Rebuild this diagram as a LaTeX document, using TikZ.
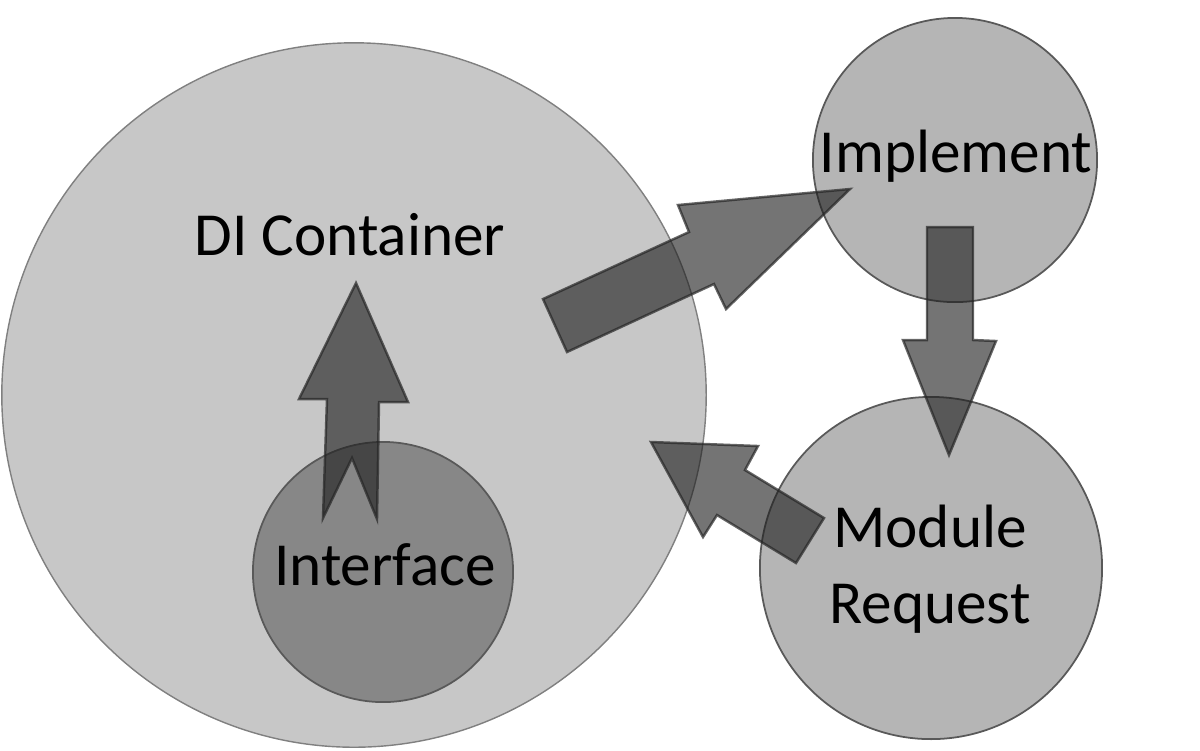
\documentclass[tikz,border=0pt]{standalone}
\usepackage{fontspec}
\setmainfont{Carlito}
\usepackage{tikz}

\tikzset{
  bubble/.style={circle, draw=black!65, line width=0.5pt, inner sep=0pt},
  blockarrow/.style={fill=black!88, fill opacity=0.62, draw=black!85, draw opacity=0.7, line width=0.7pt, line join=miter},
  caption/.style={font=\fontsize{17.4}{21.6}\selectfont, align=center, anchor=base, inner sep=0pt}
}

\begin{document}
\begin{tikzpicture}[x=0.01cm, y=-0.01cm]
\useasboundingbox (0,0) rectangle (1200,750);

% circles
\node[bubble, fill=black!22, draw=black!50, line width=0.4pt, minimum size=7.04cm] (container) at (354,395) {};
\node[bubble, fill=black!47, minimum size=2.6cm] (interface) at (383,572) {};
\node[bubble, fill=black!29, minimum size=2.84cm] (implement) at (955,160) {};
\node[bubble, fill=black!29, minimum size=3.42cm] (module) at (931,568) {};

% block arrows
\draw[blockarrow] (323,518) -- (327,399) -- (299,399) -- (356,283) -- (408,402)
  -- (379,402) -- (377,519) -- (352,458) -- cycle;
\draw[blockarrow] (543,299) -- (689,232) -- (678,205) -- (850,189) -- (726,309)
  -- (714,284) -- (567,352) -- cycle;
\draw[blockarrow] (927,227) -- (973,227) -- (973,340) -- (996,341) -- (949,455)
  -- (903,340) -- (927,340) -- cycle;
\draw[blockarrow] (824,518) -- (745,470) -- (758,446) -- (651,442) -- (703,537)
  -- (717,515) -- (796,563) -- cycle;

% labels
\node[caption] (containerlabel) at (350,255) {DI Container};
\node[caption] (implementlabel) at (956,172) {Implement};
\node[caption] (modulelabel) at (930,623) {Module\\Request};
\node[caption] (interfacelabel) at (385,585) {Interface};
\end{tikzpicture}
\end{document}
